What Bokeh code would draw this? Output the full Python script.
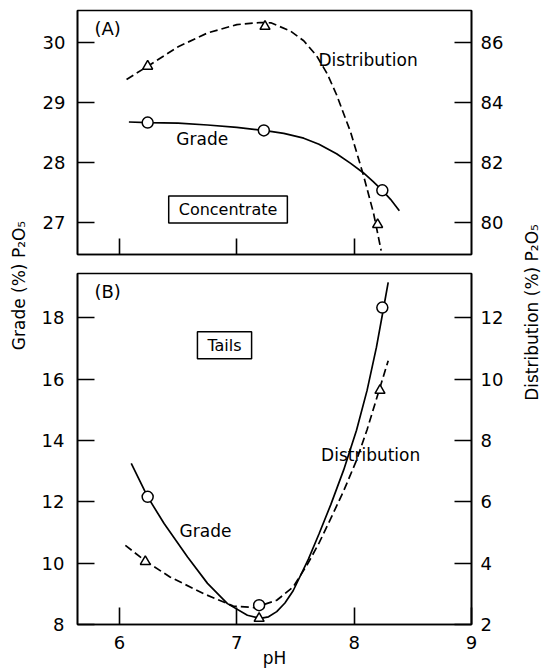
import math
from bokeh.plotting import figure
from bokeh.models import Range1d, LinearAxis, FixedTicker, Label
from bokeh.layouts import row, column
from bokeh.embed import file_html
from bokeh.resources import INLINE

FONT = "DejaVu Sans"

# ---------------- data ----------------
# (A) Concentrate
conc_grade_ph = [6.24, 7.23, 8.24]
conc_grade = [28.66, 28.53, 27.53]
conc_dist_ph = [6.24, 7.24, 8.20]
conc_dist = [85.2, 86.53, 79.92]
conc_grade_curve_ph = [6.08, 6.24, 6.5, 6.75, 7.0, 7.23, 7.4, 7.57, 7.7, 7.85, 7.97, 8.08, 8.16, 8.24, 8.31, 8.385]
conc_grade_curve = [28.67, 28.66, 28.65, 28.62, 28.58, 28.53, 28.48, 28.40, 28.30, 28.14, 27.98, 27.82, 27.68, 27.53, 27.38, 27.19]
conc_dist_curve_ph = [6.06, 6.24, 6.5, 6.75, 7.0, 7.2, 7.29, 7.455, 7.57, 7.68, 7.77, 7.85, 7.97, 8.08, 8.165, 8.23]
conc_dist_curve = [84.76, 85.2, 85.85, 86.31, 86.59, 86.66, 86.65, 86.38, 86.05, 85.55, 84.95, 84.25, 83.0, 81.55, 80.3, 79.05]

# (B) Tails
tails_grade_ph = [6.24, 7.19, 8.24]
tails_grade = [12.16, 8.63, 18.33]
tails_dist_ph = [6.22, 7.19, 8.22]
tails_dist = [4.05, 2.2, 9.63]
tails_grade_curve_ph = [6.10, 6.24, 6.38, 6.58, 6.75, 6.92, 7.09, 7.2, 7.27, 7.34, 7.41, 7.48, 7.61, 7.7, 7.8, 7.91, 8.02, 8.11, 8.19, 8.25, 8.29]
tails_grade_curve = [13.25, 12.16, 11.29, 10.2, 9.34, 8.68, 8.30, 8.2, 8.25, 8.42, 8.7, 9.1, 10.13, 10.95, 11.9, 13.03, 14.33, 15.63, 17.04, 18.3, 19.15]
tails_dist_curve_ph = [6.05, 6.22, 6.43, 6.72, 6.97, 7.15, 7.34, 7.48, 7.6, 7.7, 7.8, 7.91, 8.02, 8.11, 8.21, 8.29]
tails_dist_curve = [4.58, 4.07, 3.55, 3.0, 2.6, 2.55, 2.79, 3.22, 3.95, 4.65, 5.45, 6.35, 7.35, 8.35, 9.6, 10.6]

x_ticks = [6, 7, 8, 9]
a_left_ticks = [27, 28, 29, 30]
a_right_ticks = [80, 82, 84, 86]
b_left_ticks = [8, 10, 12, 14, 16, 18]
b_right_ticks = [2, 4, 6, 8, 10, 12]

LW = 1.7
DASH = "8 4"


def style_axis(ax, ticks, tick_in, standoff, show_labels=True):
    ax.ticker = FixedTicker(ticks=ticks)
    ax.axis_line_width = 1.6
    ax.axis_line_color = "black"
    ax.major_tick_in = tick_in
    ax.major_tick_out = 0
    ax.major_tick_line_width = 1.6
    ax.major_tick_line_color = "black"
    ax.minor_tick_line_color = None
    ax.major_label_standoff = standoff
    ax.major_label_text_font = FONT
    ax.major_label_text_font_size = "18px" if show_labels else "0px"
    ax.major_label_text_color = "black"
    if not show_labels:
        ax.major_label_overrides = {t: "" for t in ticks}


def base_fig(height, top, bottom, yr, yr2):
    p = figure(width=485, height=height, output_backend="svg", toolbar_location=None,
               x_range=Range1d(5.642, 9.0), y_range=Range1d(*yr),
               min_border_left=47, min_border_right=44, min_border_top=top,
               min_border_bottom=bottom, x_axis_location=None, y_axis_location=None)
    p.extra_y_ranges = {"right": Range1d(*yr2)}
    p.grid.visible = False
    p.outline_line_color = "black"
    p.outline_line_width = 1.6
    p.background_fill_color = "white"
    p.border_fill_color = "white"
    return p


def add_label(p, x, y, text, size="17px", align="left", box=False, y_range_name="default"):
    kw = {}
    if box:
        kw = dict(border_line_color="black", border_line_width=1.5,
                  background_fill_color="white",
                  padding=dict(top=4, bottom=4, left=10, right=10))
    lab = Label(x=x, y=y, text=text, text_font=FONT, text_font_size=size,
                text_align=align, text_baseline="middle", text_color="black",
                y_range_name=y_range_name, **kw)
    p.add_layout(lab)


# ---------------- panel A ----------------
p1 = base_fig(262, 10, 8, (26.46, 30.53), (78.92, 87.06))
ax_b1 = LinearAxis()
style_axis(ax_b1, [6, 7, 8], 16, 0, show_labels=False)
p1.add_layout(ax_b1, "below")
ax_l1 = LinearAxis()
style_axis(ax_l1, a_left_ticks, 17, 12)
p1.add_layout(ax_l1, "left")
ax_r1 = LinearAxis(y_range_name="right")
style_axis(ax_r1, a_right_ticks, 17, 9)
p1.add_layout(ax_r1, "right")

p1.line(conc_dist_curve_ph, conc_dist_curve, y_range_name="right",
        line_color="black", line_width=LW, line_dash=DASH)
p1.line(conc_grade_curve_ph, conc_grade_curve, line_color="black", line_width=LW)
p1.scatter(conc_grade_ph, conc_grade, marker="circle", size=11,
           fill_color="white", line_color="black", line_width=1.5)
p1.scatter(conc_dist_ph, conc_dist, y_range_name="right", marker="triangle", size=10,
           fill_color="white", line_color="black", line_width=1.5)

add_label(p1, 5.786, 30.23, "(A)", size="18px")
add_label(p1, 6.705, 28.38, "Grade", align="center")
add_label(p1, 7.696, 29.71, "Distribution")
add_label(p1, 6.925, 27.21, "Concentrate", size="16px", align="center", box=True)

# ---------------- panel B ----------------
p2 = base_fig(409, 11, 47, (8.0, 19.44), (2.0, 13.44))
ax_b2 = LinearAxis(axis_label="pH")
style_axis(ax_b2, x_ticks, 17, 11)
ax_b2.axis_label_text_font = FONT
ax_b2.axis_label_text_font_size = "17px"
ax_b2.axis_label_text_font_style = "normal"
ax_b2.axis_label_text_color = "black"
ax_b2.axis_label_standoff = -4
p2.add_layout(ax_b2, "below")
ax_l2 = LinearAxis()
style_axis(ax_l2, b_left_ticks, 17, 13)
p2.add_layout(ax_l2, "left")
ax_r2 = LinearAxis(y_range_name="right")
style_axis(ax_r2, b_right_ticks, 17, 9)
p2.add_layout(ax_r2, "right")

p2.line(tails_dist_curve_ph, tails_dist_curve, y_range_name="right",
        line_color="black", line_width=LW, line_dash=DASH)
p2.line(tails_grade_curve_ph, tails_grade_curve, line_color="black", line_width=LW)
p2.scatter(tails_grade_ph, tails_grade, marker="circle", size=11,
           fill_color="white", line_color="black", line_width=1.5)
p2.scatter(tails_dist_ph, tails_dist, y_range_name="right", marker="triangle", size=10,
           fill_color="white", line_color="black", line_width=1.5)

add_label(p2, 5.786, 18.85, "(B)", size="18px")
add_label(p2, 6.895, 17.10, "Tails", size="16px", align="center", box=True)
add_label(p2, 6.733, 11.05, "Grade", align="center")
add_label(p2, 7.718, 13.51, "Distribution")


# ---------------- side titles ----------------
def title_fig(width, x, y, text):
    f = figure(width=width, height=671, output_backend="svg", toolbar_location=None,
               x_range=Range1d(0, width), y_range=Range1d(0, 671),
               min_border=0, min_border_left=0, min_border_right=0,
               min_border_top=0, min_border_bottom=0,
               x_axis_location=None, y_axis_location=None)
    f.grid.visible = False
    f.outline_line_color = None
    f.add_layout(Label(x=x, y=y, text=text, angle=math.pi / 2, text_font=FONT,
                       text_font_size="17px", text_align="center",
                       text_baseline="middle", text_color="black"))
    return f


left_title = title_fig(30, 18, 671 - 285, "Grade (%) P\u2082O\u2085")
right_title = title_fig(27, 16.7, 671 - 312, "Distribution (%) P\u2082O\u2085")

layout = row(left_title, column(p1, p2, spacing=0), right_title, spacing=0)

open("out.html", "w").write(file_html(layout, INLINE))
